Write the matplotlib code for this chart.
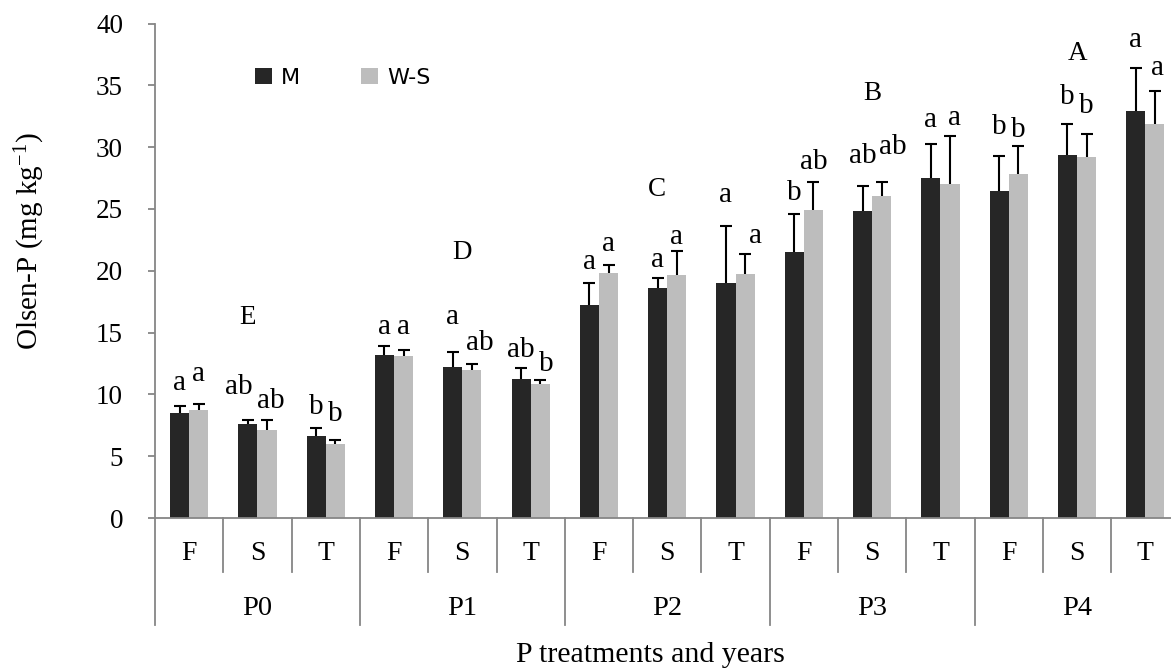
import matplotlib
matplotlib.use("Agg")
import matplotlib.pyplot as plt
import numpy as np
from matplotlib.transforms import blended_transform_factory

# ---- data -------------------------------------------------------------
years = ["F", "S", "T"]
treatments = ["P0", "P1", "P2", "P3", "P4"]
series_names = ["M", "W-S"]

m_mean = [8.53, 7.64, 6.61, 13.16, 12.22, 11.28, 17.21, 18.64, 19.04,
          21.52, 24.84, 27.54, 26.43, 29.35, 32.90]
m_err = [0.51, 0.32, 0.65, 0.76, 1.21, 0.86, 1.83, 0.78, 4.56,
         3.11, 2.02, 2.70, 2.86, 2.50, 3.51]
ws_mean = [8.71, 7.15, 6.02, 13.10, 11.95, 10.87, 19.85, 19.69, 19.77,
           24.95, 26.05, 27.00, 27.81, 29.21, 31.91]
ws_err = [0.54, 0.81, 0.32, 0.47, 0.54, 0.27, 0.65, 1.89, 1.56,
          2.23, 1.13, 3.91, 2.29, 1.83, 2.64]

m_letters = ["a", "ab", "b", "a", "a", "ab", "a", "a", "a",
             "b", "ab", "a", "b", "b", "a"]
ws_letters = ["a", "ab", "b", "a", "ab", "b", "a", "a", "a",
              "ab", "ab", "a", "b", "b", "a"]
group_letters = ["E", "D", "C", "B", "A"]

# ---- annotation placement (data units) --------------------------------
m_label_y = [10.90, 10.57, 8.96, 15.45, 16.26, 13.62, 20.71, 20.85, 26.11,
             26.25, 29.26, 32.23, 31.63, 34.06, 38.65]
ws_label_y = [11.63, 9.47, 8.39, 15.45, 14.16, 12.49, 22.20, 22.69, 22.79,
              28.80, 30.02, 32.39, 31.37, 33.31, 36.36]
m_label_dx = [0, -0.14, 0, 0, 0, 0, 0, 0, 0, 0, 0, 0, 0, 0, 0]
ws_label_dx = [0, 0.05, 0, 0, 0.12, 0.09, 0, 0, 0.15, 0, 0.16, 0.07, 0, 0, 0.04]
group_letter_y = [16.24, 21.50, 26.57, 34.34, 37.57]
group_letter_dx = [-0.15, 0, -0.15, 0, 0]

# ---- style ------------------------------------------------------------
plt.rcParams["font.family"] = ["Liberation Serif", "DejaVu Serif"]
plt.rcParams["mathtext.fontset"] = "custom"
plt.rcParams["mathtext.rm"] = "Liberation Serif"
plt.rcParams["mathtext.it"] = "Liberation Serif:italic"

DARK = "#262626"
LIGHT = "#bdbdbd"
AXIS_GREY = "#868686"

W, H = 1171, 669
fig = plt.figure(figsize=(W / 100, H / 100), dpi=100)
ax = fig.add_axes([155 / W, (H - 518) / H, 1024.5 / W, 494.5 / H])

n = len(m_mean)
x = np.arange(n)
bw = 0.28
off = 0.14

bars_m = ax.bar(x - off, m_mean, bw, color=DARK, zorder=2)
bars_ws = ax.bar(x + off, ws_mean, bw, color=LIGHT, zorder=2)

# upper error bars only
for xs, mean, err in ((x - off, m_mean, m_err), (x + off, ws_mean, ws_err)):
    eb = ax.errorbar(xs, mean, yerr=[np.zeros(n), err], fmt="none",
                     ecolor="black", elinewidth=1.5, capsize=4.3,
                     capthick=1.5, zorder=3)
    for cap in eb[1]:
        if np.allclose(cap.get_ydata(), mean):
            cap.set_visible(False)

# significance letters
for i in range(n):
    ax.text(x[i] - off + m_label_dx[i], m_label_y[i], m_letters[i],
            ha="center", va="center", fontsize=21)
    ax.text(x[i] + off + ws_label_dx[i], ws_label_y[i], ws_letters[i],
            ha="center", va="center", fontsize=21)
for g, letter in enumerate(group_letters):
    ax.text(3 * g + 1 + group_letter_dx[g], group_letter_y[g], letter,
            ha="center", va="center", fontsize=19.5)

# axes
ax.set_xlim(-0.5, n - 0.5)
ax.set_ylim(0, 40)
ax.set_yticks(np.arange(0, 41, 5))
ax.set_xticks([])
ax.tick_params(axis="y", length=5, width=1.3, color=AXIS_GREY, pad=18,
               labelsize=19.5)
for s in ("top", "right"):
    ax.spines[s].set_visible(False)
for s in ("left", "bottom"):
    ax.spines[s].set_color(AXIS_GREY)
    ax.spines[s].set_linewidth(1.3)

# two-level category axis
trans = blended_transform_factory(ax.transData, ax.transAxes)
ax.plot([-0.5, -0.5], [0, -0.216], transform=trans, clip_on=False,
        color=AXIS_GREY, lw=1.3)
for k in range(1, n + 1):
    b = k - 0.5
    depth = -0.216 if k % 3 == 0 else -0.109
    ax.plot([b, b], [0, depth], transform=trans, clip_on=False,
            color=AXIS_GREY, lw=1.3)
for i in range(n):
    ax.text(x[i], -0.072, years[i % 3], transform=trans, ha="center",
            va="center", fontsize=20)
for g, name in enumerate(treatments):
    ax.text(3 * g + 1, -0.183, name, transform=trans, ha="center",
            va="center", fontsize=20.5)

fig.text(650 / W, 1 - 655 / H, "P treatments and years", ha="center",
         va="center", fontsize=21.5)
fig.text(30 / W, 1 - 241 / H, r"Olsen-P (mg kg$^{-1}$)", rotation=90,
         ha="center", va="center", fontsize=21)

fig.legend(handles=[bars_m, bars_ws], labels=series_names, loc="upper left",
           bbox_to_anchor=(255 / W, 1 - 68 / H), ncol=2, frameon=False,
           prop={"family": "DejaVu Sans", "size": 16}, handlelength=0.76,
           handleheight=0.76, handletextpad=0.4, columnspacing=2.75,
           borderpad=0, borderaxespad=0)

fig.savefig("out.png", dpi=100)
